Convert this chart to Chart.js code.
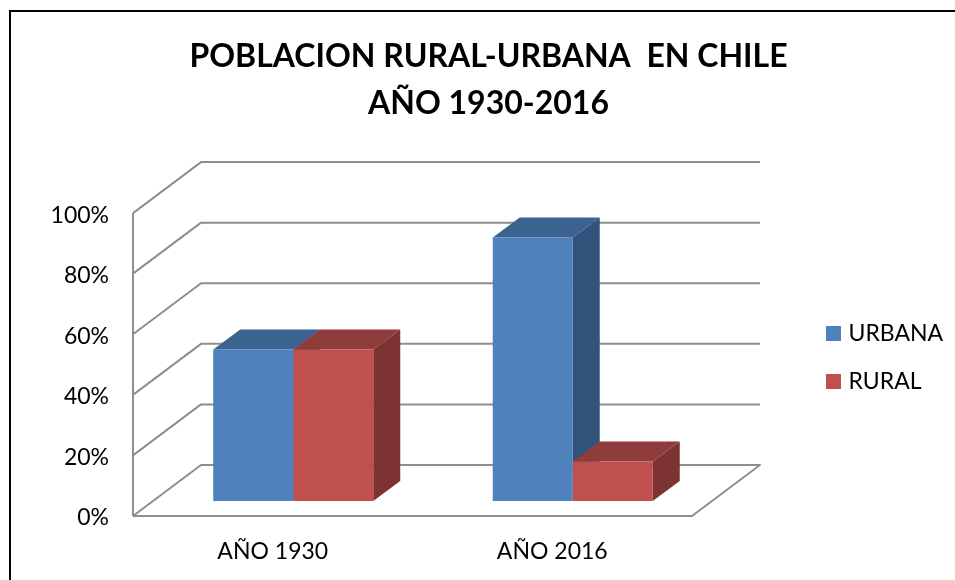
<!DOCTYPE html>
<html>
<head>
<meta charset="utf-8">
<style>
    html, body { margin: 0; padding: 0; background: #fff; }
    #marco { position: absolute; left: 9px; top: 10px; width: 950px; height: 575px; border-left: 2px solid #000; border-top: 2px solid #000; }
    body { overflow: hidden; }
    canvas { position: absolute; left: 0; top: 0; }
</style>
<script src="https://cdn.jsdelivr.net/npm/chart.js@4"></script>
</head>
<body>
<div id="marco"></div>
<canvas id="grafico" width="955" height="580"></canvas>
<script>
const tituloLineas = ['POBLACION RURAL-URBANA  EN CHILE', 'AÑO 1930-2016'];
const categorias = ['AÑO 1930', 'AÑO 2016'];
const urbana = [50, 87];
const rural = [50, 13];

const fuente = 'Lato, Carlito, Calibri, sans-serif';
const colorGrid = '#8e8e8e';

// Profundidad del grafico 3D: fondo de las paredes y posicion de las barras
const fondo = { x: 68, y: -51 };
const despBarra = { x: 20.5, y: -15 };
const fondoBarra = { x: 27, y: -20 };

function cara(ctx, puntos, color) {
    ctx.fillStyle = color;
    ctx.beginPath();
    puntos.forEach((p, i) => i ? ctx.lineTo(p[0], p[1]) : ctx.moveTo(p[0], p[1]));
    ctx.closePath();
    ctx.fill();
}

const efecto3d = {
    id: 'efecto3d',
    afterLayout(chart) {
        // leyenda y titulo fuera del centro del canvas
        const leg = chart.legend;
        const w = leg.width, h = leg.height;
        leg.left = 805;
        leg.right = leg.left + w;
        leg.top = 206;
        leg.bottom = leg.top + h;
        chart.titleBlock.left = 22;
        chart.titleBlock.right = 955;
    },
    beforeDatasetsDraw(chart) {
        const { ctx, chartArea: a, scales: { y } } = chart;

        // paredes y suelo
        ctx.save();
        ctx.strokeStyle = colorGrid;
        ctx.lineWidth = 2;
        ctx.lineJoin = 'round';
        y.ticks.forEach(t => {
            const py = y.getPixelForValue(t.value);
            ctx.beginPath();
            ctx.moveTo(a.left, py);
            ctx.lineTo(a.left + fondo.x, py + fondo.y);
            ctx.lineTo(a.right + fondo.x, py + fondo.y);
            if (t.value === 0) {
                ctx.lineTo(a.right, py);
                ctx.lineTo(a.left, py);
            }
            ctx.stroke();
        });
        ctx.beginPath();
        ctx.moveTo(a.left, y.getPixelForValue(100));
        ctx.lineTo(a.left, y.getPixelForValue(0));
        ctx.stroke();
        ctx.restore();

        ctx.save();
        ctx.translate(despBarra.x, despBarra.y);
        const dx = fondoBarra.x, dy = fondoBarra.y;
        chart.data.datasets.forEach((ds, i) => {
            chart.getDatasetMeta(i).data.forEach(b => {
                const x0 = b.x - b.width / 2, x1 = b.x + b.width / 2;
                cara(ctx, [[x1, b.y], [x1 + dx, b.y + dy], [x1 + dx, b.base + dy], [x1, b.base]], ds.colorLado);
                cara(ctx, [[x0, b.y], [x0 + dx, b.y + dy], [x1 + dx, b.y + dy], [x1, b.y]], ds.colorTecho);
            });
        });
        // el frente lo dibuja Chart.js con este desplazamiento
    },
    afterDatasetsDraw(chart) {
        chart.ctx.restore();
    }
};

new Chart(document.getElementById('grafico').getContext('2d'), {
    type: 'bar',
    data: {
        labels: categorias,
        datasets: [
            { label: 'URBANA', data: urbana, backgroundColor: '#4f81bd', colorTecho: '#3c6390', colorLado: '#31537c' },
            { label: 'RURAL', data: rural, backgroundColor: '#c0504d', colorTecho: '#8f3c3a', colorLado: '#7d3331' }
        ]
    },
    options: {
        responsive: false,
        animation: false,
        devicePixelRatio: 1,
        categoryPercentage: 0.5725,
        barPercentage: 1,
        layout: { padding: { left: 0, right: 263, top: 0, bottom: 0 } },
        scales: {
            x: {
                grid: { display: false, drawTicks: false },
                border: { display: false },
                ticks: { padding: 22, color: '#000', font: { family: fuente, size: 23 }, maxRotation: 0 },
                afterFit(scale) { scale.height = 64; }
            },
            y: {
                min: 0,
                max: 100,
                grid: { display: false, drawTicks: false },
                border: { display: false },
                ticks: { stepSize: 20, padding: 24, labelOffset: 2, color: '#000', font: { family: fuente, size: 23 }, callback: v => v + '%' },
                afterFit(scale) { scale.width = 133; }
            }
        },
        plugins: {
            title: {
                display: true,
                text: tituloLineas,
                color: '#000',
                font: { family: fuente, size: 32, weight: 'bold', lineHeight: 1.47 },
                padding: { top: 33.5, bottom: 85.5 }
            },
            legend: {
                position: 'chartArea',
                labels: {
                    color: '#000',
                    font: { family: fuente, size: 23 },
                    boxWidth: 7,
                    boxHeight: 7,
                    padding: 25,
                    generateLabels: chart => chart.data.datasets.map(ds => ({
                        text: ds.label,
                        fillStyle: ds.backgroundColor,
                        strokeStyle: ds.backgroundColor,
                        lineWidth: 8,
                        fontColor: '#000'
                    }))
                }
            },
            tooltip: { enabled: false }
        }
    },
    plugins: [efecto3d]
});
</script>
</body>
</html>
